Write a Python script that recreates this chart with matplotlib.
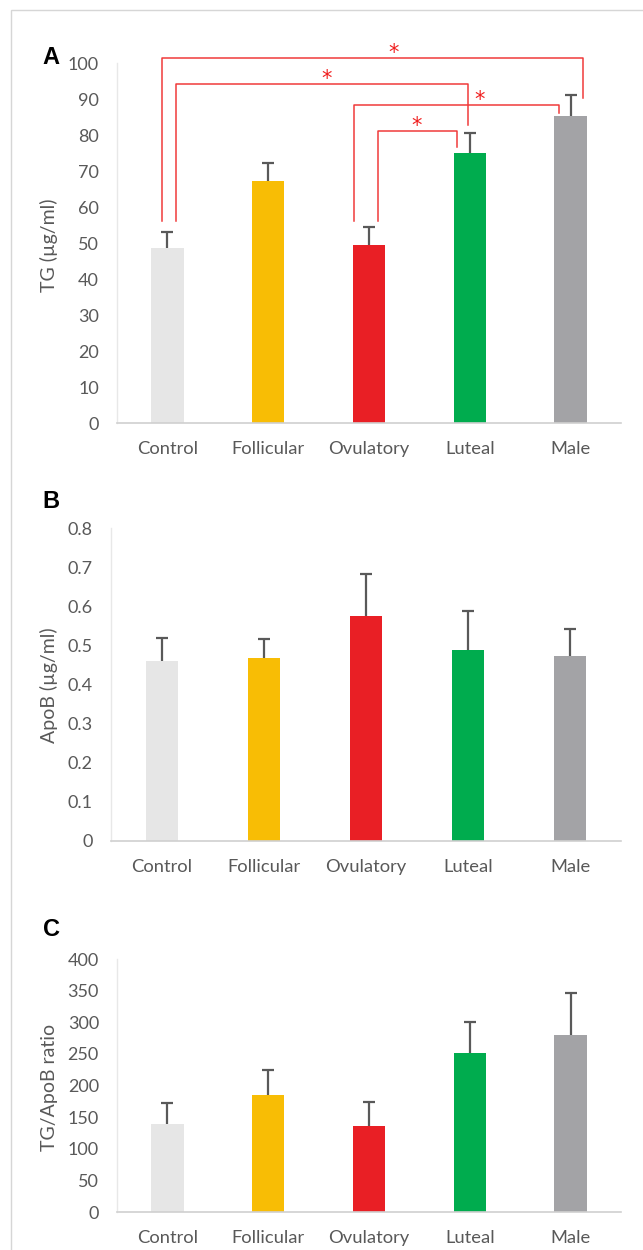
import matplotlib
matplotlib.use("Agg")
import matplotlib.pyplot as plt
from matplotlib.patches import Rectangle

# ---------------- data ----------------
categories = ["Control", "Follicular", "Ovulatory", "Luteal", "Male"]
colors = ["#e6e6e6", "#f8bd05", "#e91f25", "#00ac4e", "#a3a3a6"]

tg_mean = [48.6, 67.2, 49.5, 75.0, 85.4]
tg_err = [4.6, 5.1, 5.0, 5.6, 5.8]

apob_mean = [0.461, 0.467, 0.575, 0.488, 0.474]
apob_err = [0.057, 0.049, 0.109, 0.099, 0.069]

ratio_mean = [140, 185, 137, 252, 280]
ratio_err = [33, 39, 37, 49, 67]

# significance brackets for panel A
sig_left_x = [-0.054, 0.087, 1.855, 2.088]
sig_right_x = [4.125, 2.98, 3.886, 2.874]
sig_top = [101.4, 94.2, 88.4, 81.3]
sig_left_bottom = [56.3, 56.3, 56.3, 56.3]
sig_right_bottom = [90.4, 82.8, 86.1, 76.7]
sig_star_x = [2.245, 1.576, 3.10, 2.474]
sig_labels = ["*", "*", "*", "*"]

W, H = 643, 1250
fig = plt.figure(figsize=(W / 100, H / 100), dpi=100)
FONT = "Lato"
TXT = "#595959"

# light frame around figure
fig.patches.append(Rectangle((11 / W, -0.1), 2.0, 1 - 10 / H + 0.1,
                             transform=fig.transFigure, fill=False,
                             edgecolor="#d6d6d6", linewidth=1.0))


def px_rect(l, r, top, bot):
    return [l / W, 1 - bot / H, (r - l) / W, (bot - top) / H]


def make_panel(rect, means, errs, ylim, yticks, yticklabels):
    ax = fig.add_axes(rect)
    x = list(range(len(categories)))
    ax.bar(x, means, width=0.32, color=colors, zorder=2)
    eb = ax.errorbar(x, means, yerr=[[0] * len(errs), errs], fmt="none",
                     ecolor="#595959", elinewidth=1.6, capsize=4.5,
                     capthick=1.6, zorder=3)
    eb[1][0].set_visible(False)
    ax.set_xlim(-0.5, 4.5)
    ax.set_ylim(*ylim)
    ax.set_xticks(x)
    ax.set_xticklabels(categories, fontfamily=FONT, fontsize=13.2, color=TXT)
    ax.set_yticks(yticks)
    ax.set_yticklabels(yticklabels, fontfamily=FONT, fontsize=13, color=TXT)
    ax.tick_params(axis="x", length=0, pad=13)
    ax.tick_params(axis="y", length=0, pad=13)
    for s in ["top", "right"]:
        ax.spines[s].set_visible(False)
    ax.spines["left"].set_color("#e8e8e8")
    ax.spines["left"].set_linewidth(1.0)
    ax.spines["bottom"].set_color("#d0d0d0")
    ax.spines["bottom"].set_linewidth(1.2)
    ax.set_facecolor("none")
    return ax


# Panel A
axA = make_panel(px_rect(117, 621, 63.3, 423.3), tg_mean, tg_err, (0, 100),
                 list(range(0, 101, 10)), [str(v) for v in range(0, 101, 10)])
for lx, rx, top, lb, rb, sx, lab in zip(sig_left_x, sig_right_x, sig_top,
                                       sig_left_bottom, sig_right_bottom,
                                       sig_star_x, sig_labels):
    axA.plot([lx, lx, rx, rx], [lb, top, top, rb], color="#f03a3a",
             linewidth=1.1, clip_on=False, zorder=4)
    axA.text(sx, top - 0.3, lab, color="#f01e1e", fontsize=15,
             fontfamily="DejaVu Sans", ha="center", va="baseline",
             clip_on=False)

# Panel B
b_ticks = [i / 10 for i in range(0, 9)]
make_panel(px_rect(111, 621, 528.3, 840.7), apob_mean, apob_err, (0, 0.8),
           b_ticks, ["0"] + [f"{v:.1f}" for v in b_ticks[1:]])

# Panel C
c_ticks = list(range(0, 401, 50))
make_panel(px_rect(117, 621, 959, 1212.3), ratio_mean, ratio_err, (0, 400),
           c_ticks, [str(v) for v in c_ticks])

# y labels
for (xc, yc, lab) in [(49, 245, "TG (µg/ml)"), (49, 685, "ApoB (µg/ml)"),
                      (49, 1087, "TG/ApoB ratio")]:
    fig.text(xc / W, 1 - yc / H, lab, rotation=90, ha="center", va="center",
             fontfamily=FONT, fontsize=14, color=TXT)

# panel letters
for (xc, yc, lab) in [(51, 57, "A"), (51, 502, "B"), (51, 930, "C")]:
    fig.text(xc / W, 1 - yc / H, lab, ha="center", va="center",
             fontfamily="Liberation Sans", fontweight="bold", fontsize=17,
             color="black")

fig.savefig("out.png", dpi=100)
